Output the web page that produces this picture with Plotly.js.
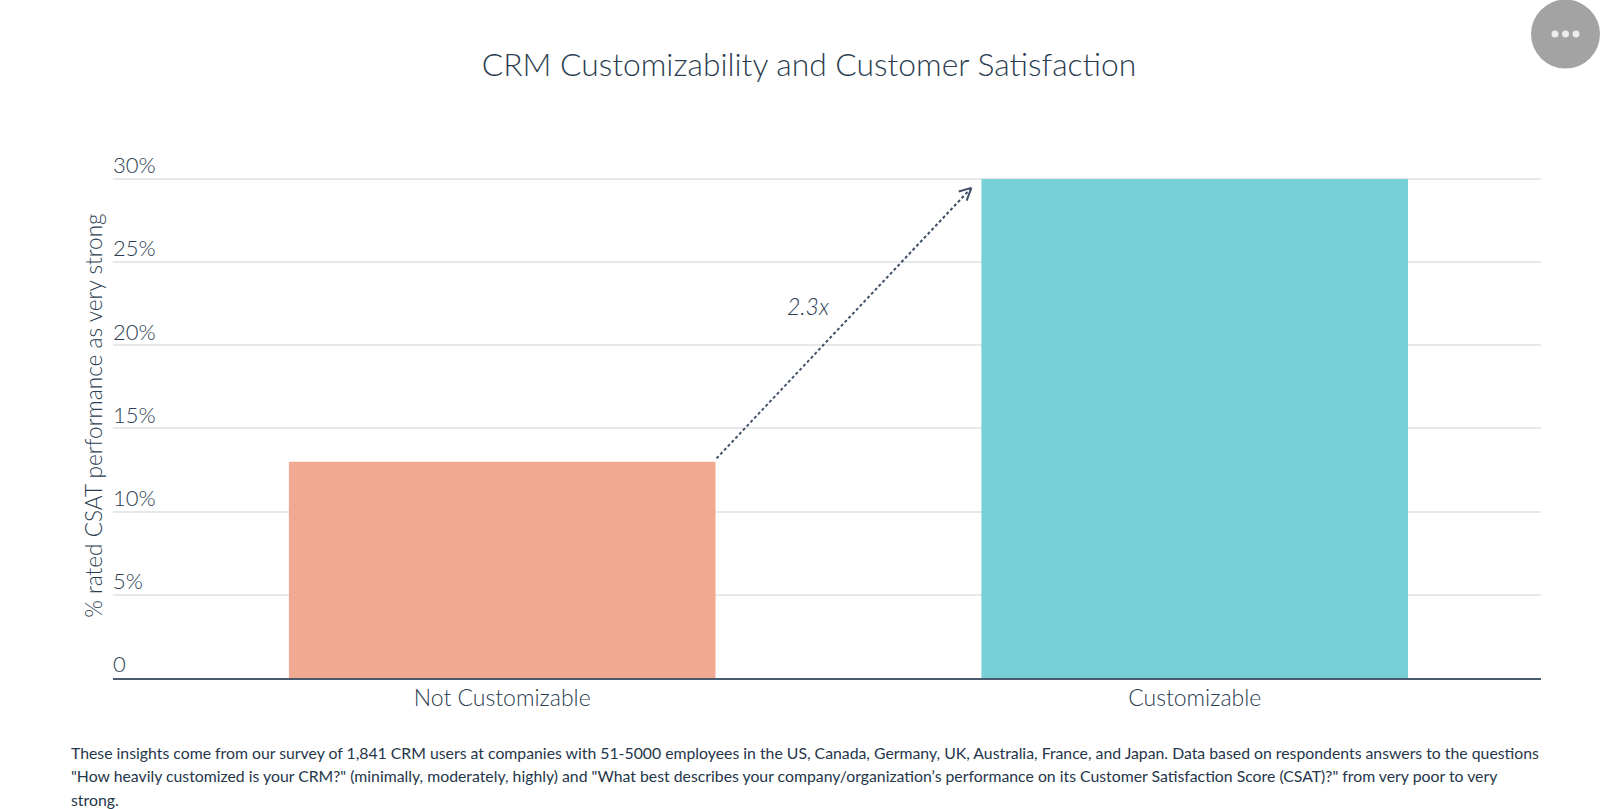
<!DOCTYPE html>
<html>
<head>
<meta charset="utf-8">
<script src="https://cdn.plot.ly/plotly-3.0.1.min.js"></script>
<style>html,body{margin:0;padding:0;background:#fff;overflow:hidden}</style>
</head>
<body>
<div id="chart" style="width:1600px;height:809px"></div>
<script>
const categories = ["Not Customizable", "Customizable"];
const values = [13, 30];
const barColors = ["#f2a992", "#77d0d8"];
const tickVals = [0, 5, 10, 15, 20, 25, 30];
const tickText = ["0", "5%", "10%", "15%", "20%", "25%", "30%"];
const titleText = "CRM Customizability and Customer Satisfaction";
const yTitle = "% rated CSAT performance as very strong";
const multiplier = "2.3x";
const footnoteLines = [
  "These insights come from our survey of 1,841 CRM users at companies with 51-5000 employees in the US, Canada, Germany, UK, Australia, France, and Japan. Data based on respondents answers to the questions",
  "\"How heavily customized is your CRM?\" (minimally, moderately, highly) and \"What best describes your company/organization’s performance on its Customer Satisfaction Score (CSAT)?\" from very poor to very",
  "strong."
];
const arrowX = [0.3095, 0.6775];
const arrowY = [13.2, 29.46];
const headLeft = [0.6592, 29.24];
const headRight = [0.6707, 28.7];

const W = 1600, H = 809;
const YMAX = 33;
const L = 113, R = 1541, B = 678.5, T = B - YMAX * (499.5 / 30);
const FONT = "Lato, 'Open Sans', sans-serif";
const INK = "#2b3d50";
const px = x => (x - L) / (R - L);
const py = y => (B - y) / (B - T);

function circle(cx, cy, r, color) {
  return {type: "circle", xref: "paper", yref: "paper", layer: "above",
    x0: px(cx - r), x1: px(cx + r), y0: py(cy + r), y1: py(cy - r),
    fillcolor: color, line: {width: 0}};
}
function seg(a, b, dash, width) {
  return {type: "line", xref: "x", yref: "y", layer: "above",
    x0: a[0], y0: a[1], x1: b[0], y1: b[1],
    line: {color: "#3f4f66", width: width, dash: dash}};
}
const tip = [arrowX[1], arrowY[1]];
function note(text, y) {
  return {xref: "paper", yref: "paper", x: px(68.5), y: py(y), yanchor: "middle", xanchor: "left",
    align: "left", text: text, showarrow: false,
    font: {family: FONT, size: 15.8, color: "#25364a", weight: 400}};
}

Plotly.newPlot("chart", [{
  type: "bar", x: categories, y: values, width: 0.616,
  marker: {color: barColors, line: {width: 0}}, hoverinfo: "x+y"
}], {
  width: W, height: H, autosize: false, showlegend: false,
  paper_bgcolor: "#fff", plot_bgcolor: "#fff",
  margin: {l: L, r: W - R, t: T, b: H - B, pad: 0},
  font: {family: FONT, color: INK, weight: 300},
  title: {text: titleText, x: 809 / W, xanchor: "center", y: 1 - 65 / H, yanchor: "middle",
    font: {family: FONT, size: 31.8, color: INK, weight: 300}},
  xaxis: {type: "category", range: [-0.562, 1.5], showgrid: false, ticks: "", zeroline: false,
    showline: true, linecolor: "#4a5a70", linewidth: 2, ticklabelstandoff: -2,
    tickfont: {family: FONT, size: 23, color: INK, weight: 300}},
  yaxis: {range: [0, YMAX], tickmode: "array", tickvals: tickVals, ticktext: tickText,
    ticklabelposition: "inside top", ticklabelstandoff: -3, ticklabelshift: 2, showline: false, zeroline: false,
    gridcolor: "#e6e8ea", gridwidth: 1.5, ticks: "",
    tickfont: {family: FONT, size: 22, color: INK, weight: 300}},
  shapes: [
    seg([arrowX[0], arrowY[0]], tip, "3px,2.5px", 2),
    seg(headLeft, tip, "solid", 2),
    seg(headRight, tip, "solid", 2),
    circle(1565.5, 34, 34.5, "#a3a3a3"),
    circle(1555, 34, 3.5, "#ececec"),
    circle(1565.5, 34, 3.5, "#ececec"),
    circle(1576, 34, 3.5, "#ececec")
  ],
  annotations: [
    {xref: "paper", yref: "paper", x: px(94), y: py(416), text: yTitle, textangle: -90,
      showarrow: false, xanchor: "center", yanchor: "middle",
      font: {family: FONT, size: 22.6, color: INK, weight: 300}},
    {xref: "paper", yref: "paper", x: px(808), y: py(306), text: "<i>" + multiplier + "</i>",
      showarrow: false, xanchor: "center", yanchor: "middle",
      font: {family: FONT, size: 23, color: INK, weight: 300}},
    note(footnoteLines[0], 753),
    note(footnoteLines[1], 776),
    note(footnoteLines[2], 800)
  ]
}, {displayModeBar: false, responsive: false});
</script>
</body>
</html>
